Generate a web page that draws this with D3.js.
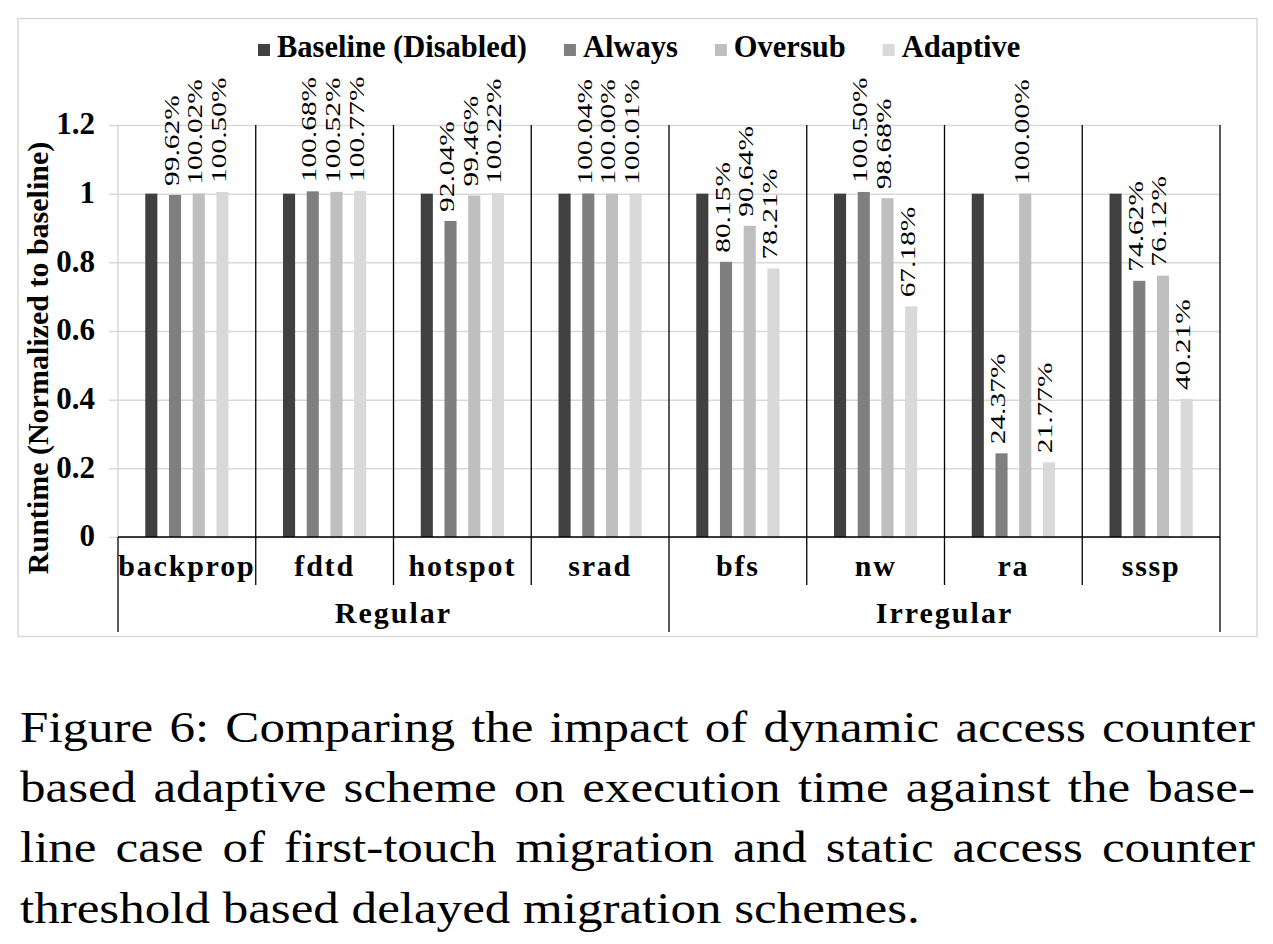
<!DOCTYPE html>
<html>
<head>
<meta charset="utf-8">
<script src="https://cdn.jsdelivr.net/npm/d3@7"></script>
<style>
  html, body { margin: 0; padding: 0; background: #fff; }
  svg { display: block; }
</style>
</head>
<body>
<svg id="chart" width="1273" height="944"></svg>
<script>
// ---- data ----
const categories = ["backprop", "fdtd", "hotspot", "srad", "bfs", "nw", "ra", "sssp"];
const groupOf = ["Regular", "Regular", "Regular", "Regular", "Irregular", "Irregular", "Irregular", "Irregular"];
const groups = ["Regular", "Irregular"];
const seriesNames = ["Baseline (Disabled)", "Always", "Oversub", "Adaptive"];
const baselineVals = [1, 1, 1, 1, 1, 1, 1, 1];
const alwaysVals   = [0.9962, 1.0068, 0.9204, 1.0004, 0.8015, 1.0050, 0.2437, 0.7462];
const oversubVals  = [1.0002, 1.0052, 0.9946, 1.0000, 0.9064, 0.9868, 1.0000, 0.7612];
const adaptiveVals = [1.0050, 1.0077, 1.0022, 1.0001, 0.7821, 0.6718, 0.2177, 0.4021];
const labelled = [false, true, true, true];
const yTicks = [0, 0.2, 0.4, 0.6, 0.8, 1, 1.2];
const colors = ["#404040", "#7f7f7f", "#bfbfbf", "#d9d9d9"];
const captionLines = [
  "Figure 6: Comparing the impact of dynamic access counter",
  "based adaptive scheme on execution time against the base-",
  "line case of first-touch migration and static access counter",
  "threshold based delayed migration schemes."
];

const seriesVals = [baselineVals, alwaysVals, oversubVals, adaptiveVals];
const FONT = '"Liberation Serif", Tinos, "Times New Roman", Times, serif';

const svg = d3.select("#chart").attr("font-family", FONT);
const L = 118, R = 1220, T = 125, B = 537;

// outer chart border
svg.append("rect").attr("x", 18).attr("y", 18.5).attr("width", 1239).attr("height", 618)
  .attr("fill", "#fff").attr("stroke", "#d9d9d9").attr("stroke-width", 1.5);

const y = d3.scaleLinear().domain([0, 1.2]).range([B, T]);
const x0 = d3.scaleBand().domain(categories).range([L, R]).padding(0);
const x1 = d3.scaleBand().domain(seriesNames).range([0, x0.bandwidth()])
  .paddingInner(0.49).paddingOuter(1.15);

// y axis with gridlines
const yAxis = d3.axisLeft(y).tickValues(yTicks).tickSize(-(R - 109)).tickPadding(14)
  .tickFormat(d => String(+d.toFixed(1)));
const ga = svg.append("g").attr("transform", "translate(109,0)").call(yAxis);
ga.attr("font-family", FONT).attr("font-size", null);
ga.select(".domain").remove();
ga.selectAll(".tick line").attr("stroke", "#d9d9d9").attr("stroke-width", 1.5);
ga.selectAll(".tick text").attr("fill", "#000").attr("font-size", 31).attr("font-weight", "bold")
  .attr("font-family", FONT).attr("dy", "0.28em");

// left gray vertical line (value axis line)
svg.append("line").attr("x1", L).attr("x2", L).attr("y1", T).attr("y2", B)
  .attr("stroke", "#d9d9d9").attr("stroke-width", 1.5);

// bars
const barData = [];
categories.forEach((c, i) => {
  seriesNames.forEach((s, j) => {
    barData.push({ cat: c, ser: s, j: j, v: seriesVals[j][i] });
  });
});
svg.append("g").selectAll("rect").data(barData).join("rect")
  .attr("x", d => x0(d.cat) + x1(d.ser))
  .attr("y", d => y(d.v))
  .attr("width", x1.bandwidth())
  .attr("height", d => y(0) - y(d.v))
  .attr("fill", d => colors[d.j]);

// value labels (rotated)
svg.append("g").selectAll("text").data(barData.filter(d => labelled[d.j])).join("text")
  .attr("transform", d => {
    const cx = x0(d.cat) + x1(d.ser) + x1.bandwidth() / 2 + 3.5;
    return `translate(${cx},${y(d.v) - 9}) rotate(-90) scale(1.37,1)`;
  })
  .attr("font-family", FONT)
  .attr("font-size", 21.5)
  .attr("fill", "#000")
  .text(d => (d.v * 100).toFixed(2) + "%");

// x axis line
svg.append("line").attr("x1", L).attr("x2", R).attr("y1", B).attr("y2", B)
  .attr("stroke", "#000").attr("stroke-width", 1.5);

// separators
categories.forEach((c, i) => {
  const xx = x0(c);
  if (i === 0) {
    svg.append("line").attr("x1", xx).attr("x2", xx).attr("y1", B).attr("y2", 632)
      .attr("stroke", "#000").attr("stroke-width", 1.3);
  } else {
    const isGroupEdge = groupOf[i] !== groupOf[i - 1];
    svg.append("line").attr("x1", xx).attr("x2", xx).attr("y1", T).attr("y2", isGroupEdge ? 632 : 585)
      .attr("stroke", "#000").attr("stroke-width", 1.3);
  }
});
svg.append("line").attr("x1", R).attr("x2", R).attr("y1", T).attr("y2", 632)
  .attr("stroke", "#000").attr("stroke-width", 1.3);

// category labels
svg.append("g").selectAll("text").data(categories).join("text")
  .attr("x", d => x0(d) + x0.bandwidth() / 2)
  .attr("y", 576)
  .attr("text-anchor", "middle")
  .attr("font-family", FONT)
  .attr("font-size", 30).attr("font-weight", "bold").attr("letter-spacing", "1.8px")
  .text(d => d);

// group labels
groups.forEach(g => {
  const cats = categories.filter((c, i) => groupOf[i] === g);
  const gx0 = x0(cats[0]);
  const gx1 = x0(cats[cats.length - 1]) + x0.bandwidth();
  svg.append("text").attr("x", (gx0 + gx1) / 2).attr("y", 623)
    .attr("text-anchor", "middle")
    .attr("font-family", FONT)
    .attr("font-size", 30).attr("font-weight", "bold").attr("letter-spacing", "2px")
    .text(g);
});

// y axis title
svg.append("text")
  .attr("transform", "translate(48,358) rotate(-90)")
  .attr("text-anchor", "middle")
  .attr("font-family", FONT)
  .attr("font-size", 30).attr("font-weight", "bold")
  .text("Runtime (Normalized to baseline)");

// legend
const leg = svg.append("g");
let lx = 258;
seriesNames.forEach((s, j) => {
  leg.append("rect").attr("x", lx).attr("y", 44).attr("width", 12).attr("height", 12).attr("fill", colors[j]);
  const t = leg.append("text").attr("x", lx + 19).attr("y", 57)
    .attr("font-family", FONT)
    .attr("font-size", 30.5).attr("font-weight", "bold").text(s);
  lx = lx + 19 + t.node().getComputedTextLength() + 37;
});

// caption (justified)
const capX0 = 20, capX1 = 1255, capSX = 1.16, capFS = 44;
const capBase = [741.5, 802, 862, 923];
captionLines.forEach((line, li) => {
  const g = svg.append("g").attr("transform", `translate(${capX0},${capBase[li]}) scale(${capSX},1)`);
  if (li === captionLines.length - 1) {
    g.append("text").attr("x", 0).attr("y", 0).attr("font-family", FONT).attr("font-size", capFS).text(line);
    return;
  }
  const words = line.split(" ");
  const nodes = words.map(w => g.append("text").attr("y", 0).attr("font-family", FONT).attr("font-size", capFS).text(w));
  const widths = nodes.map(n => n.node().getComputedTextLength());
  const avail = (capX1 - capX0) / capSX;
  const gap = (avail - d3.sum(widths)) / (words.length - 1);
  let cx = 0;
  nodes.forEach((n, k) => { n.attr("x", cx); cx += widths[k] + gap; });
});
</script>
</body>
</html>
